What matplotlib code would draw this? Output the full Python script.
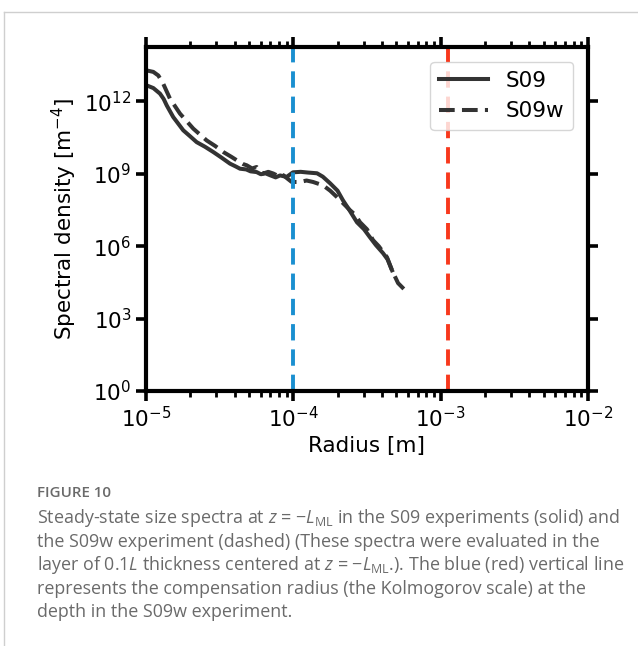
import numpy as np
import matplotlib
matplotlib.use("Agg")
import matplotlib.pyplot as plt
from matplotlib.lines import Line2D
from matplotlib.ticker import LogLocator, NullFormatter

plt.rcParams['font.family'] = ['DejaVu Sans']
plt.rcParams['mathtext.fontset'] = 'dejavusans'
plt.rcParams['mathtext.rm'] = 'Open Sans'
plt.rcParams['mathtext.it'] = 'Open Sans:italic'

# spectra, log10 of radius [m] and log10 of spectral density [m^-4]
s09_logr = [-4.995, -4.950, -4.905, -4.880, -4.859, -4.815, -4.747, -4.700, -4.656, -4.600,
            -4.543, -4.490, -4.430, -4.390, -4.362, -4.320, -4.290, -4.249, -4.220, -4.190,
            -4.158, -4.120, -4.090, -4.045, -4.002, -3.950, -3.900, -3.839, -3.800, -3.751,
            -3.700, -3.663, -3.620, -3.568, -3.520, -3.480, -3.440, -3.391, -3.360, -3.330]
s09_logs = [12.66, 12.55, 12.32, 12.10, 11.83, 11.35, 10.80, 10.55, 10.31, 10.12,
            9.90, 9.68, 9.42, 9.30, 9.21, 9.18, 9.10, 9.07, 8.98, 9.02,
            8.94, 8.85, 8.93, 8.87, 9.06, 9.08, 9.05, 9.02, 8.88, 8.61,
            8.30, 7.90, 7.50, 6.99, 6.70, 6.37, 6.05, 5.71, 5.45, 5.00]

s09w_logr = [-4.995, -4.950, -4.916, -4.883, -4.837, -4.769, -4.679, -4.588, -4.530, -4.475,
             -4.420, -4.384, -4.340, -4.316, -4.280, -4.249, -4.225, -4.204, -4.170, -4.136,
             -4.100, -4.068, -4.040, -4.011, -3.955, -3.910, -3.866, -3.798, -3.750, -3.703,
             -3.615, -3.580, -3.547, -3.500, -3.459, -3.420, -3.364, -3.330, -3.289, -3.242]
s09w_logs = [13.28, 13.22, 13.07, 12.73, 12.11, 11.49, 10.87, 10.38, 10.15, 9.90,
             9.70, 9.56, 9.40, 9.35, 9.22, 9.28, 9.10, 9.01, 9.08, 9.01,
             8.90, 8.94, 8.80, 8.66, 8.66, 8.72, 8.66, 8.52, 8.30, 8.03,
             7.49, 7.30, 6.99, 6.70, 6.25, 6.00, 5.54, 5.00, 4.47, 4.18]

r_comp = 1.0e-4     # compensation radius
r_kolm = 1.13e-3    # Kolmogorov scale

fig = plt.figure(figsize=(6.38, 6.46), dpi=100)
ax = fig.add_axes([0.2288, 0.3947, 0.6928, 0.5325])

ax.plot(10 ** np.array(s09_logr), 10 ** np.array(s09_logs), color='#333333', lw=2.9,
        ls='-', label='S09')
ax.plot(10 ** np.array(s09w_logr), 10 ** np.array(s09w_logs), color='#333333', lw=2.9,
        ls=(0, (3.9, 1.8)), label='S09w')
ax.axvline(r_comp, color='#1a8fd0', lw=2.8, ls=(0, (4.2, 2.3)))
ax.axvline(r_kolm, color='#f8381c', lw=2.8, ls=(0, (4.2, 2.3)))

ax.set_xscale('log')
ax.set_yscale('log')
ax.set_xlim(1e-5, 1e-2)
ax.set_ylim(1e0, 10 ** 14.25)
ax.set_yticks([1e0, 1e3, 1e6, 1e9, 1e12])
ax.yaxis.set_minor_locator(LogLocator(base=10, subs=[], numticks=20))
ax.yaxis.set_minor_formatter(NullFormatter())

for s in ax.spines.values():
    s.set_linewidth(3.0)
ax.tick_params(which='major', length=7, width=2.6, labelsize=15.5,
               top=True, right=True, direction='out')
ax.tick_params(which='minor', length=4, width=2.0, top=True, right=False, direction='out')
ax.tick_params(axis='y', which='minor', left=False, right=False)

ax.set_xlabel('Radius [m]', fontsize=15.5)
ax.set_ylabel('Spectral density [m$^{-4}$]', fontsize=15.5)
ax.legend(loc='upper right', fontsize=15.5, handlelength=2.3, borderaxespad=0.7,
          edgecolor='#cccccc', framealpha=0.8)

# outer frame of the figure panel
fig.add_artist(Line2D([4 / 638, 4 / 638], [0, 1 - 12 / 646], color='#cfcfcf', lw=1.0))
fig.add_artist(Line2D([4 / 638, 1], [1 - 12 / 646, 1 - 12 / 646], color='#cfcfcf', lw=1.0))

fig.text(37 / 638, 1 - 493 / 646, 'FIGURE 10', fontsize=10.9, color='#6a6a6a',
         family='Open Sans', weight='semibold', va='center')
caption = [
    'Steady-state size spectra at $z$ = \u2212$L_{\\mathrm{ML}}$ in the S09 experiments (solid) and',
    'the S09w experiment (dashed) (These spectra were evaluated in the',
    'layer of 0.1$L$ thickness centered at $z$ = \u2212$L_{\\mathrm{ML}}$.). The blue (red) vertical line',
    'represents the compensation radius (the Kolmogorov scale) at the',
    'depth in the S09w experiment.',
]
for i, line in enumerate(caption):
    fig.text(37 / 638, 1 - (518 + 23.6 * i) / 646, line, fontsize=12.9, color='#6a6a6a',
             family='Open Sans', math_fontfamily='custom', va='center')

fig.savefig('out.png', dpi=100)
